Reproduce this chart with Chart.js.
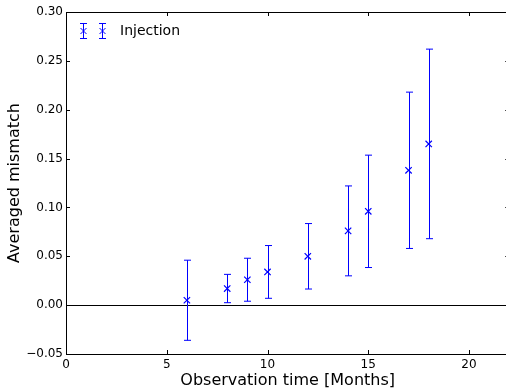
<!DOCTYPE html>
<html>
<head>
<meta charset="utf-8">
<script src="https://cdn.jsdelivr.net/npm/chart.js@4/dist/chart.umd.min.js"></script>
<style>
  html, body { margin: 0; padding: 0; overflow: hidden; background: #fff; }
  canvas { display: block; }
</style>
</head>
<body>
<canvas id="chart" width="515" height="390"></canvas>
<script>
// observation time in months, averaged mismatch and its error (symmetric)
const months = [6, 8, 9, 10, 12, 14, 15, 17, 18];
const mismatch = [0.005, 0.017, 0.026, 0.034, 0.050, 0.076, 0.096, 0.138, 0.165];
const errors = [0.041, 0.0145, 0.022, 0.027, 0.0335, 0.046, 0.0575, 0.080, 0.097];

const xTicks = [0, 5, 10, 15, 20];
const yTicks = [-0.05, 0, 0.05, 0.10, 0.15, 0.20, 0.25, 0.30];

const blue = '#0000ff';
Chart.defaults.font.family = 'DejaVu Sans';
Chart.defaults.font.size = 12;
Chart.defaults.color = '#000';

function drawCross(ctx, x, y, r) {
  ctx.beginPath();
  ctx.moveTo(x - r, y - r); ctx.lineTo(x + r, y + r);
  ctx.moveTo(x + r, y - r); ctx.lineTo(x - r, y + r);
  ctx.stroke();
}

function drawErrorBar(ctx, x, yTop, yBot) {
  ctx.beginPath();
  ctx.moveTo(x, yTop); ctx.lineTo(x, yBot);
  ctx.moveTo(x - 3.5, yTop); ctx.lineTo(x + 3.5, yTop);
  ctx.moveTo(x - 3.5, yBot); ctx.lineTo(x + 3.5, yBot);
  ctx.stroke();
}

const errorBars = {
  id: 'errorBars',
  beforeDatasetsDraw(chart) {
    const ctx = chart.ctx;
    const xs = chart.scales.x, ys = chart.scales.y;
    ctx.save();
    ctx.strokeStyle = blue;
    ctx.lineWidth = 1;
    months.forEach((m, i) => {
      const px = Math.round(xs.getPixelForValue(m)) + 0.5;
      drawErrorBar(ctx, px,
        ys.getPixelForValue(mismatch[i] + errors[i]),
        ys.getPixelForValue(mismatch[i] - errors[i]));
    });
    ctx.restore();
  },
  afterDraw(chart) {
    const ctx = chart.ctx;
    const a = chart.chartArea;
    const xs = chart.scales.x, ys = chart.scales.y;
    ctx.save();
    ctx.strokeStyle = '#000';
    ctx.lineWidth = 1;
    ctx.strokeRect(a.left + 0.5, a.top + 0.5, a.right - a.left, a.bottom - a.top);
    // inward ticks on all four sides
    ctx.beginPath();
    xTicks.forEach(v => {
      const px = Math.round(xs.getPixelForValue(v)) + 0.5;
      ctx.moveTo(px, a.bottom); ctx.lineTo(px, a.bottom - 4);
      ctx.moveTo(px, a.top); ctx.lineTo(px, a.top + 4);
    });
    yTicks.forEach(v => {
      const py = Math.round(ys.getPixelForValue(v)) + 0.5;
      ctx.moveTo(a.left, py); ctx.lineTo(a.left + 4, py);
      ctx.moveTo(a.right, py); ctx.lineTo(a.right - 4, py);
    });
    ctx.stroke();

    // legend
    ctx.strokeStyle = blue;
    [83.5, 102.5].forEach(lx => {
      drawErrorBar(ctx, lx, 23.5, 38.5);
      drawCross(ctx, lx, 31, 3);
    });
    ctx.fillStyle = '#000';
    ctx.font = '14px "DejaVu Sans"';
    ctx.textBaseline = 'middle';
    ctx.fillText('Injection', 120, 31);
    ctx.restore();
  }
};

const fmt = v => (v < 0 ? '\u2212' : '') + Math.abs(v).toFixed(2);

new Chart(document.getElementById('chart'), {
  type: 'scatter',
  data: {
    datasets: [{
      label: 'Injection',
      data: months.map((m, i) => ({ x: m, y: mismatch[i] })),
      showLine: false,
      pointStyle: 'crossRot',
      pointRadius: 4.5,
      borderColor: blue,
      backgroundColor: blue,
      borderWidth: 1.2
    }]
  },
  options: {
    responsive: false,
    animation: false,
    devicePixelRatio: 1,
    layout: { padding: { top: 12, right: 2, left: 0, bottom: 0 } },
    plugins: { legend: { display: false }, tooltip: { enabled: false } },
    scales: {
      x: {
        type: 'linear',
        min: 0, max: 22,
        afterBuildTicks: s => { s.ticks = xTicks.map(v => ({ value: v })); },
        afterFit: s => { s.height = 36; },
        grid: { display: false, drawTicks: false },
        border: { display: false },
        ticks: { padding: 4, maxRotation: 0, callback: v => String(v) },
        title: {
          display: true,
          text: 'Observation time [Months]',
          font: { size: 16 },
          padding: { top: 0, bottom: 0 }
        }
      },
      y: {
        type: 'linear',
        min: -0.05, max: 0.30,
        afterBuildTicks: s => { s.ticks = yTicks.map(v => ({ value: v })); },
        afterFit: s => { s.width = 66; },
        grid: {
          drawTicks: false,
          lineWidth: 1,
          color: c => (c.tick && Math.abs(c.tick.value) < 1e-9) ? '#000' : 'rgba(0,0,0,0)'
        },
        border: { display: false },
        ticks: { padding: 3, callback: v => fmt(v) },
        title: {
          display: true,
          text: 'Averaged mismatch',
          font: { size: 16 },
          padding: { top: 5, bottom: 0 }
        }
      }
    }
  },
  plugins: [errorBars]
});
</script>
</body>
</html>
